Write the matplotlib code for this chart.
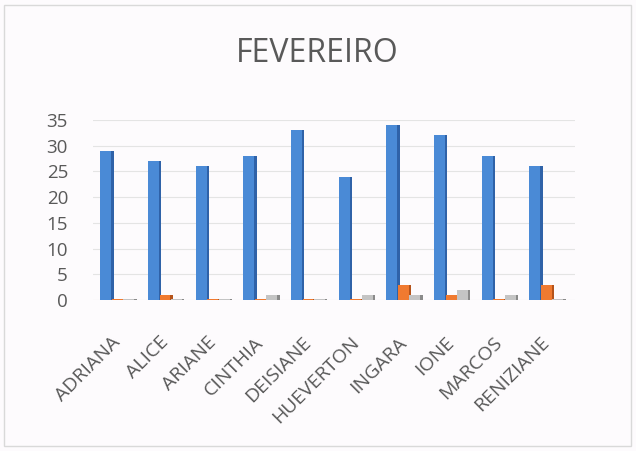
import matplotlib
matplotlib.use("Agg")
import matplotlib.pyplot as plt
import matplotlib.transforms as mtransforms
import numpy as np
from matplotlib.patches import Rectangle

categories = ["ADRIANA", "ALICE", "ARIANE", "CINTHIA", "DEISIANE",
              "HUEVERTON", "INGARA", "IONE", "MARCOS", "RENIZIANE"]
serie_azul = [29, 27, 26, 28, 33, 24, 34, 32, 28, 26]
serie_laranja = [0, 1, 0, 0, 0, 0, 3, 1, 0, 3]
serie_cinza = [0, 0, 0, 1, 0, 1, 1, 2, 1, 0]
yticks = [0, 5, 10, 15, 20, 25, 30, 35]
title = "FEVEREIRO"

plt.rcParams['font.family'] = ['Open Sans', 'DejaVu Sans']

W, H = 636, 451
fig = plt.figure(figsize=(W / 100, H / 100), dpi=100)
bg = "#fdfbfd"
fig.patch.set_facecolor(bg)
fig.patches.append(Rectangle((4 / W, 5 / H), 627 / W, 441 / H, transform=fig.transFigure,
                             fill=False, edgecolor="#d9d9d9", linewidth=1.0))

ax = fig.add_axes([93 / W, 151 / H, 482 / W, 180 / H])
ax.set_facecolor(bg)

x = np.arange(len(categories))
face_w = 0.23
side_w = 0.05
series = [
    (serie_azul, -0.22, "#4a8ad6", "#2f62a8"),
    (serie_laranja, 0.02, "#f07a30", "#b5531a"),
    (serie_cinza, 0.26, "#c4c4c4", "#8a8a8a"),
]
for vals, off, col, dark in series:
    vals = np.asarray(vals, dtype=float)
    shown = np.where(vals > 0, vals, 0.15)
    ax.bar(x + off, shown, width=face_w, color=col, zorder=3, linewidth=0)
    ax.bar(x + off + face_w / 2 + side_w / 2, shown, width=side_w, color=dark,
           zorder=3, linewidth=0)

ax.set_xlim(-0.49, 9.62)
ax.set_ylim(0, 35)
ax.set_yticks(yticks)
ax.set_yticklabels([str(t) for t in yticks])
ax.yaxis.grid(True, color="#e4e4e4", linewidth=0.8, zorder=0)
ax.set_axisbelow(True)
for s in ax.spines.values():
    s.set_visible(False)

ax.set_xticks(x)
ax.set_xticklabels(categories, rotation=45, ha="right", va="top",
                   rotation_mode="anchor", fontsize=14, color="#595959")
ax.tick_params(axis="x", length=0, pad=24)
ax.tick_params(axis="y", length=0, pad=18, labelsize=13.5, labelcolor="#595959")
shift = mtransforms.ScaledTranslation(-5 / 100, 0, fig.dpi_scale_trans)
for lbl in ax.get_xticklabels():
    lbl.set_transform(lbl.get_transform() + shift)

fig.text(0.499, 1 - 54 / H, title, ha="center", va="center", fontsize=23,
         color="#595959")

fig.savefig("out.png", dpi=100, facecolor=bg)
